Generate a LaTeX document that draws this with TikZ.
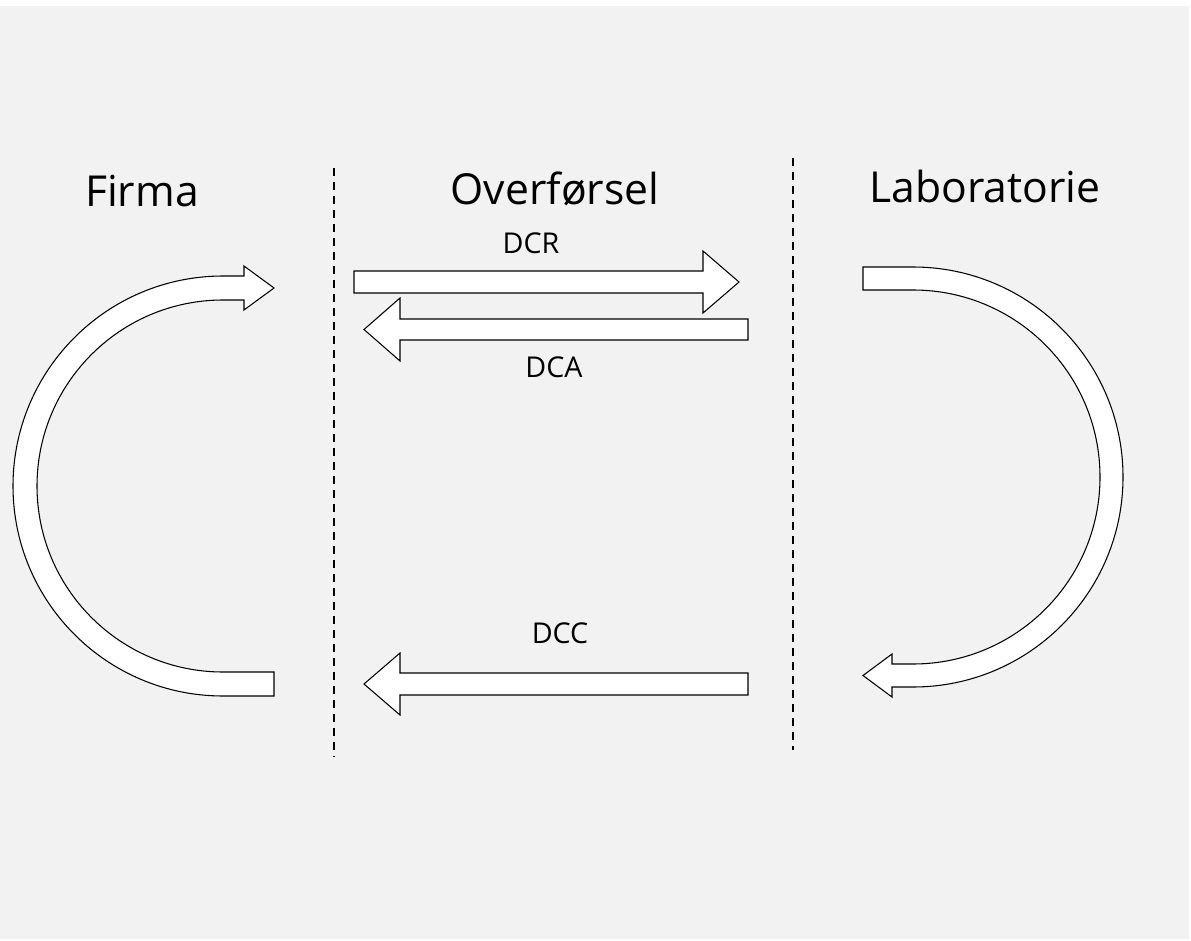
\documentclass[tikz,border=0pt]{standalone}
\usepackage{fontspec}
\setmainfont{Open Sans}
\usepackage{tikz}
\usetikzlibrary{positioning, calc}

\begin{document}
\begin{tikzpicture}[x=0.75pt, y=0.75pt]
    \tikzset{
        zone title/.style={
                font=\fontsize{32}{38}\selectfont, text=black, anchor=base, inner sep=0pt
            },
        flow label/.style={
                font=\fontsize{21.5}{26}\selectfont, text=black, anchor=base, inner sep=0pt
            },
        band/.style={
                draw=black, fill=white, line width=0.8pt, line join=miter
            },
        divider/.style={
                draw=black, line width=1.1pt, dash pattern=on 6pt off 4.5pt
            }
    }

    % --- Hintergrund ---
    \useasboundingbox (0,0) rectangle (1191,-941);
    \fill[white] (0,0) rectangle (1191,-941);
    \fill[black!5] (0,-6) rectangle (1189,-939);

    % --- Trennlinien ---
    \coordinate (div1top) at (334,-168);
    \coordinate (div1bot) at (334,-757);
    \coordinate (div2top) at (793,-158);
    \coordinate (div2bot) at (793,-750);
    \draw[divider] (div1top) -- (div1bot);
    \draw[divider] (div2top) -- (div2bot);

    % --- Ueberschriften ---
    \node[zone title] (firma) at (142,-207) {Firma};
    \node[zone title] (overf) at (555,-205) {Overførsel};
    \node[zone title] (lab) at (985,-203) {Laboratorie};

    % --- gerade Pfeile ---
    % DCR nach rechts
    \draw[band] (354,-271) -- (703,-271) -- (703,-251) -- (739,-282) -- (703,-313)
        -- (703,-293) -- (354,-293) -- cycle;
    % DCA nach links
    \draw[band] (748,-319) -- (400,-319) -- (400,-298) -- (364,-329.5) -- (400,-361)
        -- (400,-340) -- (748,-340) -- cycle;
    % DCC nach links
    \draw[band] (748,-673) -- (400,-673) -- (400,-653) -- (364,-684) -- (400,-715)
        -- (400,-695) -- (748,-695) -- cycle;

    \node[flow label] (dcr) at (531,-253) {DCR};
    \node[flow label] (dca) at (554,-377) {DCA};
    \node[flow label] (dcc) at (560,-643) {DCC};

    % --- Kreislauf im Firma ---
    \draw[band] (274,-672) -- (223,-672) arc[start angle=270, end angle=90, radius=186]
        -- (244,-300) -- (244,-310) -- (274,-288) -- (244,-266) -- (244,-276)
        -- (223,-276) arc[start angle=90, end angle=270, radius=210]
        -- (274,-696) -- cycle;

    % --- Kreislauf im Laboratorie ---
    \draw[band] (863,-267) -- (913,-267) arc[start angle=90, end angle=-90, radius=210]
        -- (892,-687) -- (892,-697) -- (863,-675.5) -- (892,-654) -- (892,-664)
        -- (913,-664) arc[start angle=-90, end angle=90, radius=187]
        -- (863,-290) -- cycle;
\end{tikzpicture}
\end{document}
